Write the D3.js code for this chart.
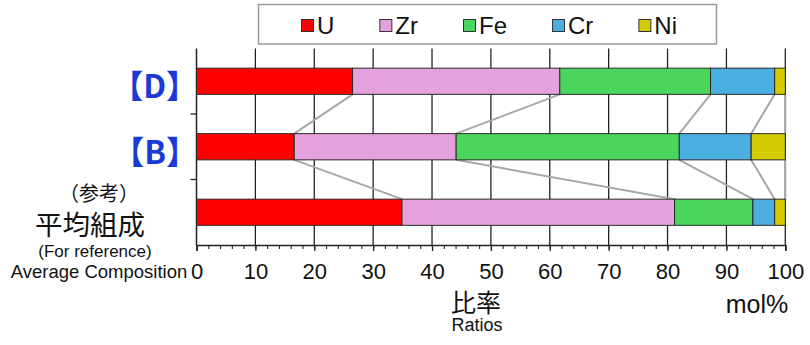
<!DOCTYPE html>
<html>
<head>
<meta charset="utf-8">
<script src="https://cdn.jsdelivr.net/npm/d3@7"></script>
<style>
  html, body { margin: 0; padding: 0; background: #fff; }
  svg { display: block; }
</style>
</head>
<body>
<svg id="chart" width="810" height="345"></svg>
<script>
// Composition categories (top to bottom)
const categories = ["D", "B", "AVG"];
// Elements in stacking order
const elements = ["U", "Zr", "Fe", "Cr", "Ni"];
// mol% per category, in category order
const valuesU  = [26.5, 16.6, 34.9];
const valuesZr = [35.2, 27.5, 46.3];
const valuesFe = [25.6, 37.9, 13.3];
const valuesCr = [10.9, 12.2, 3.7];
const valuesNi = [1.8, 5.8, 1.8];
const elementColors = ["#fe0000", "#e4a1dc", "#4ad65c", "#4baee0", "#d4cb00"];
// x axis tick labels
const xTickValues = [0, 10, 20, 30, 40, 50, 60, 70, 80, 90, 100];

const latin = "'Liberation Sans', Arial, sans-serif";
// Latin metrics first keeps the line boxes of the Japanese lines compact
const mixed = "'Liberation Sans', 'Noto Sans CJK JP', 'Noto Sans CJK SC', sans-serif";
const cjk = "'Noto Sans CJK JP', 'Noto Sans CJK SC', sans-serif";

const seriesValues = [valuesU, valuesZr, valuesFe, valuesCr, valuesNi];
const rows = categories.map((c, i) => {
  const r = { cat: c };
  elements.forEach((e, j) => { r[e] = seriesValues[j][i]; });
  return r;
});
const stacked = d3.stack().keys(elements)(rows);

const svg = d3.select("#chart");
const plotLeft = 196.5, plotRight = 785.3, plotTop = 48.5, plotBottom = 245;

const x = d3.scaleLinear().domain([0, 100]).range([plotLeft, plotRight]);
const y = d3.scaleBand().domain(categories).range([plotTop, plotBottom])
  .paddingInner(0.6).paddingOuter(0.3);

// vertical grid lines
svg.append("g").selectAll("line")
  .data(xTickValues.filter(v => v > 0))
  .join("line")
  .attr("x1", d => x(d)).attr("x2", d => x(d))
  .attr("y1", plotTop).attr("y2", plotBottom)
  .attr("stroke", "#222").attr("stroke-width", 1.3);

// bottom axis: minor ticks every 2, labelled majors every 10
svg.append("g")
  .attr("transform", `translate(0,${plotBottom})`)
  .call(d3.axisBottom(x).tickValues(d3.range(0, 101, 2)).tickSize(4).tickFormat(""))
  .call(g => g.select(".domain").remove())
  .call(g => g.selectAll(".tick line").attr("stroke", "#222").attr("stroke-width", 1.1));

const xAxis = svg.append("g")
  .attr("transform", `translate(0,${plotBottom})`)
  .call(d3.axisBottom(x).tickValues(xTickValues).tickSize(6).tickPadding(12).tickFormat(d3.format("d")));
xAxis.select(".domain").attr("stroke", "#222").attr("stroke-width", 1.5);
xAxis.selectAll(".tick line").attr("stroke", "#222").attr("stroke-width", 1.3);
xAxis.selectAll(".tick text")
  .attr("font-family", latin).attr("font-size", 22).attr("fill", "#111");

// left axis line with ticks between categories
svg.append("line")
  .attr("x1", plotLeft).attr("x2", plotLeft).attr("y1", plotTop).attr("y2", plotBottom)
  .attr("stroke", "#222").attr("stroke-width", 1.5);
const gap = (y.step() - y.bandwidth()) / 2;
svg.append("g").selectAll("line")
  .data(categories.slice(1))
  .join("line")
  .attr("x1", plotLeft - 6).attr("x2", plotLeft)
  .attr("y1", d => y(d) - gap).attr("y2", d => y(d) - gap)
  .attr("stroke", "#222").attr("stroke-width", 1.3);

// connector lines between cumulative boundaries of neighbouring bars
const connectors = [];
for (let i = 0; i < categories.length - 1; i++) {
  stacked.forEach(layer => {
    connectors.push({
      x1: x(layer[i][1]), y1: y(categories[i]) + y.bandwidth(),
      x2: x(layer[i + 1][1]), y2: y(categories[i + 1])
    });
  });
}
svg.append("g").selectAll("line")
  .data(connectors)
  .join("line")
  .attr("x1", d => d.x1).attr("y1", d => d.y1)
  .attr("x2", d => d.x2).attr("y2", d => d.y2)
  .attr("stroke", "#a8a8a8").attr("stroke-width", 2);

// stacked bars
svg.append("g").selectAll("g")
  .data(stacked)
  .join("g")
  .attr("fill", (d, i) => elementColors[i])
  .selectAll("rect")
  .data(d => d)
  .join("rect")
  .attr("x", d => x(d[0]))
  .attr("width", d => x(d[1]) - x(d[0]))
  .attr("y", d => y(d.data.cat))
  .attr("height", y.bandwidth())
  .attr("stroke", "#2a2a2a").attr("stroke-width", 1);

// category labels
const labelColor = "#1a3ad6";
[["D", "【D】"], ["B", "【B】"]].forEach(([k, t]) => {
  svg.append("text")
    .attr("x", 198).attr("y", y(k) + y.bandwidth() / 2 + 3)
    .attr("text-anchor", "end").attr("dominant-baseline", "central")
    .attr("font-family", cjk).attr("font-weight", "bold").attr("font-size", 32)
    .attr("fill", labelColor).text(t);
});
const avgLines = [
  { t: "（参考）", x: 99, y: 194, size: 20, f: mixed },
  { t: "平均組成", x: 90, y: 225.5, size: 27.5, f: mixed },
  { t: "(For reference)", x: 95, y: 251, size: 17, f: latin },
  { t: "Average Composition", x: 99, y: 271, size: 18.5, f: latin }
];
svg.append("g").selectAll("text")
  .data(avgLines)
  .join("text")
  .attr("x", d => d.x).attr("y", d => d.y)
  .attr("text-anchor", "middle").attr("dominant-baseline", "central")
  .attr("font-family", d => d.f).attr("font-size", d => d.size)
  .attr("fill", "#111").text(d => d.t);

// axis titles
svg.append("text").attr("x", 476).attr("y", 303)
  .attr("text-anchor", "middle").attr("dominant-baseline", "central")
  .attr("font-family", mixed).attr("font-size", 25).attr("fill", "#111").text("比率");
svg.append("text").attr("x", 477).attr("y", 325)
  .attr("text-anchor", "middle").attr("dominant-baseline", "central")
  .attr("font-family", latin).attr("font-size", 18).attr("fill", "#111").text("Ratios");
svg.append("text").attr("x", 757).attr("y", 304)
  .attr("text-anchor", "middle").attr("dominant-baseline", "central")
  .attr("font-family", latin).attr("font-size", 25).attr("fill", "#111").text("mol%");

// legend
const legend = svg.append("g");
legend.append("rect")
  .attr("x", 258.5).attr("y", 4.5).attr("width", 458).attr("height", 39.5)
  .attr("fill", "#fff").attr("stroke", "#9a9a9a").attr("stroke-width", 1.5);
let lx = 301;
elements.forEach((e, i) => {
  legend.append("rect")
    .attr("x", lx + 0.5).attr("y", 19.5).attr("width", 12).attr("height", 12)
    .attr("fill", elementColors[i]).attr("stroke", "#333").attr("stroke-width", 1);
  const t = legend.append("text")
    .attr("x", lx + 16).attr("y", 25.5)
    .attr("dominant-baseline", "central")
    .attr("font-family", latin).attr("font-size", 24).attr("fill", "#111").text(e);
  lx += 16 + t.node().getComputedTextLength() + 45;
});
</script>
</body>
</html>
